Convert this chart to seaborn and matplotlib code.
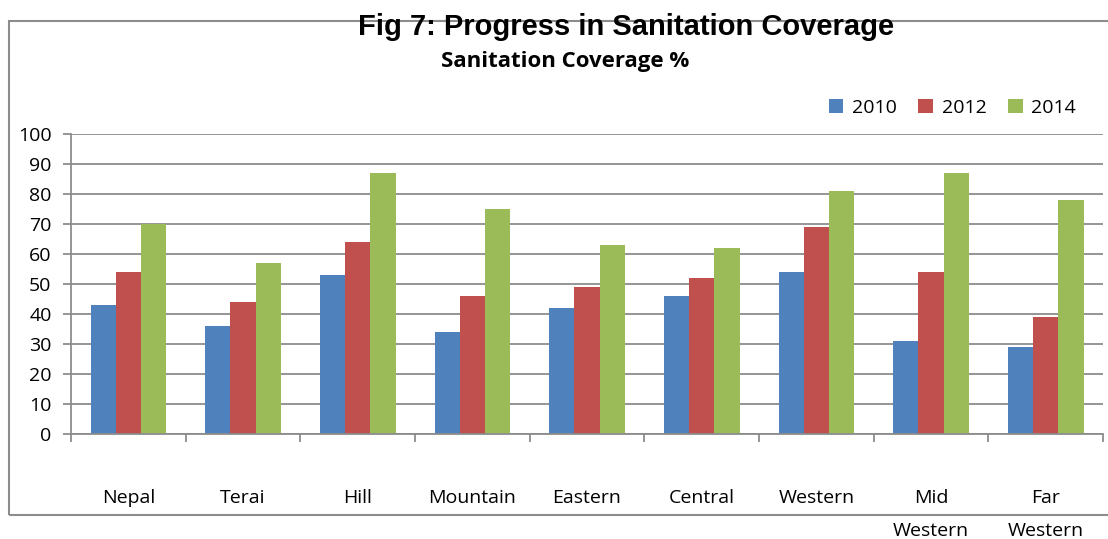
import matplotlib
matplotlib.use("Agg")
import matplotlib.pyplot as plt
from matplotlib.patches import Rectangle, Patch
import seaborn as sns
import pandas as pd

regions = ["Nepal", "Terai", "Hill", "Mountain", "Eastern", "Central",
           "Western", "Mid\nWestern", "Far\nWestern"]
years = ["2010", "2012", "2014"]
cov_2010 = [43, 36, 53, 34, 42, 46, 54, 31, 29]
cov_2012 = [54, 44, 64, 46, 49, 52, 69, 54, 39]
cov_2014 = [70, 57, 87, 75, 63, 62, 81, 87, 78]
colors = ["#4F81BD", "#C0504D", "#9BBB59"]

df = pd.DataFrame({
    "region": regions * 3,
    "year": [y for y in years for _ in regions],
    "value": cov_2010 + cov_2012 + cov_2014,
})

sns.set_theme(style="white")
plt.rcParams["font.family"] = ["Open Sans", "DejaVu Sans"]
plt.rcParams["text.color"] = "black"
plt.rcParams["xtick.color"] = "black"
plt.rcParams["ytick.color"] = "black"

fig = plt.figure(figsize=(11.08, 5.39), dpi=100)
ax = fig.add_axes([0.0641, 0.1954, 0.9314, 0.5554])

sns.barplot(data=df, x="region", y="value", hue="year", order=regions,
            hue_order=years, palette=colors, width=0.66, gap=0,
            saturation=1, linewidth=0, ax=ax, legend=False)

grid_c = "#8c8c8c"
ax.set_ylim(0, 100)
ax.set_xlim(-0.5, len(regions) - 0.5)
ax.set_yticks(range(0, 101, 10))
ax.yaxis.grid(True, color=grid_c, linewidth=1.3)
ax.set_axisbelow(True)
for s in ["top", "right"]:
    ax.spines[s].set_visible(False)
for s in ["left", "bottom"]:
    ax.spines[s].set_color(grid_c)
    ax.spines[s].set_linewidth(1.3)

# category boundaries carry the tick marks, centres carry the labels
ax.set_xticks([i - 0.5 for i in range(len(regions) + 1)])
ax.set_xticklabels([])
ax.set_xticks(range(len(regions)), minor=True)
ax.set_xticklabels(regions, minor=True, fontsize=14, linespacing=2.05,
                   va="top")
ax.tick_params(axis="x", which="major", length=6, width=1.3, color=grid_c,
               direction="out", bottom=True)
ax.tick_params(axis="x", which="minor", length=0, pad=40, bottom=True)
ax.tick_params(axis="y", length=6, width=1.3, color=grid_c, direction="out",
               left=True, labelsize=14, pad=8)
ax.set_xlabel("")
ax.set_ylabel("")

handles = [Patch(facecolor=c, edgecolor="none") for c in colors]
fig.legend(handles, years, loc="center left", bbox_to_anchor=(0.748, 0.8),
           ncol=3, frameon=False, fontsize=14, handlelength=0.75,
           handleheight=0.75, handletextpad=0.45, columnspacing=1.1,
           borderpad=0, borderaxespad=0)

fig.text(0.565, 0.95, "Fig 7: Progress in Sanitation Coverage",
         ha="center", va="center", fontsize=21, fontweight="bold",
         family="Liberation Sans", color="black")
fig.text(0.51, 0.885, "Sanitation Coverage %", ha="center", va="center",
         fontsize=16, fontweight="bold", color="black")

fig.patches.append(Rectangle((8.5 / 1108, 1 - 515 / 539),
                             1.2, (515 - 20.5) / 539,
                             transform=fig.transFigure, fill=False,
                             edgecolor=grid_c, linewidth=1.5, zorder=0))

fig.savefig("out.png", dpi=100)
